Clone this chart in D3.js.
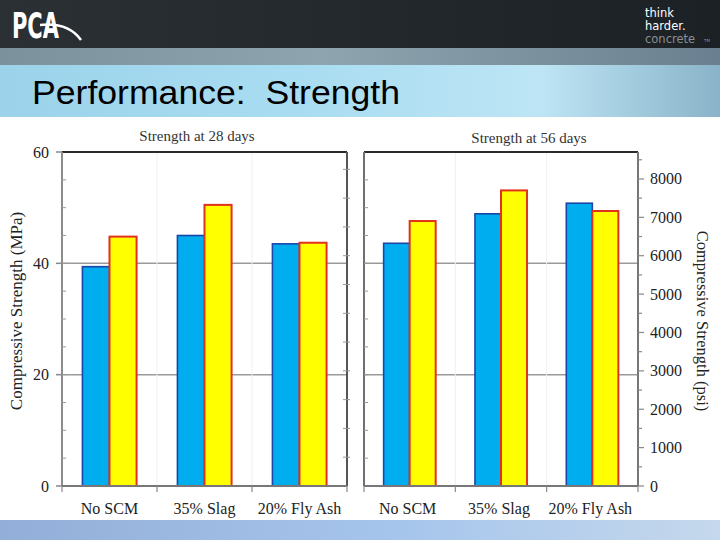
<!DOCTYPE html>
<html><head><meta charset="utf-8">
<script src="https://cdn.jsdelivr.net/npm/d3@7"></script>
<style>html,body{margin:0;padding:0;background:#fff;}svg{display:block;}</style>
</head><body>
<svg id="c" width="720" height="540"></svg>
<script>
// ---- data ----
const categories = ["No SCM", "35% Slag", "20% Fly Ash"];
const blue28 = [39.4, 45.0, 43.5];     // MPa, blue bars, 28 days
const yellow28 = [44.8, 50.5, 43.7];   // MPa, yellow bars, 28 days
const blue56 = [43.6, 48.9, 50.8];     // MPa, blue bars, 56 days
const yellow56 = [47.6, 53.1, 49.4];   // MPa, yellow bars, 56 days
const mpaTicks = [0, 20, 40, 60];
const psiTicks = [0, 1000, 2000, 3000, 4000, 5000, 6000, 7000, 8000];
const panelTitles = ["Strength at 28 days", "Strength at 56 days"];
const PSI_PER_MPA = 145.038;

const svg = d3.select("#c");
const defs = svg.append("defs");
function grad(id, stops, x2 = "100%", y2 = "0%") {
  const g = defs.append("linearGradient").attr("id", id).attr("x1", "0%").attr("y1", "0%").attr("x2", x2).attr("y2", y2);
  stops.forEach(s => g.append("stop").attr("offset", s[0]).attr("stop-color", s[1]));
}
grad("hdr", [["0%", "#2b3034"], ["100%", "#1c2125"]]);
grad("band", [["0%", "#7b929c"], ["45%", "#8ea4ae"], ["100%", "#6a8090"]]);
grad("title", [["0%", "#9cd3ea"], ["40%", "#a8dcf1"], ["75%", "#bde5f5"], ["100%", "#8ab3c9"]]);
grad("foot", [["0%", "#93aed8"], ["55%", "#a6c5ec"], ["100%", "#c5d8ec"]]);

// ---- slide chrome ----
svg.append("rect").attr("x", 0).attr("y", 0).attr("width", 720).attr("height", 48).attr("fill", "url(#hdr)");
svg.append("rect").attr("x", 0).attr("y", 48).attr("width", 720).attr("height", 17).attr("fill", "url(#band)");
svg.append("rect").attr("x", 0).attr("y", 65).attr("width", 720).attr("height", 52).attr("fill", "url(#title)");
svg.append("rect").attr("x", 0).attr("y", 520).attr("width", 720).attr("height", 20).attr("fill", "url(#foot)");

// PCA logo
svg.append("text").attr("x", 12).attr("y", 38).attr("fill", "#fff")
  .attr("font-family", "DejaVu Sans Condensed, DejaVu Sans").attr("font-weight", "bold").attr("font-size", 36)
  .attr("textLength", 47).attr("lengthAdjust", "spacingAndGlyphs").text("PCA");
svg.append("path").attr("d", "M40,25 Q68,22 81,40").attr("fill", "none").attr("stroke", "#fff").attr("stroke-width", 2.5);

// tagline
const tag = [["think", "#ffffff"], ["harder.", "#ffffff"], ["concrete", "#8b8f92"]];
tag.forEach((t, i) => {
  svg.append("text").attr("x", 645).attr("y", 17 + i * 13).attr("fill", t[1])
    .attr("font-family", "DejaVu Sans").attr("font-size", 11.5).text(t[0]);
});
svg.append("text").attr("x", 704).attr("y", 42).attr("fill", "#8b8f92").attr("font-family", "DejaVu Sans").attr("font-size", 4).text("TM");

// slide title
svg.append("text").attr("x", 32).attr("y", 104).attr("fill", "#000")
  .attr("font-family", "Liberation Sans, Arial").attr("font-size", 33).style("white-space", "pre")
  .attr("textLength", 368).attr("lengthAdjust", "spacingAndGlyphs")
  .attr("xml:space", "preserve").text("Performance:  Strength");

// ---- charts ----
const serif = "Liberation Serif, Times New Roman, serif";
const y = d3.scaleLinear().domain([0, 60]).range([486, 152]);
const yPsi = d3.scaleLinear().domain([0, 60 * PSI_PER_MPA]).range([486, 152]);

const panels = [
  { x0: 62, x1: 347, blue: blue28, yellow: yellow28, title: panelTitles[0], tx: 197, ty: 141 },
  { x0: 364, x1: 638, blue: blue56, yellow: yellow56, title: panelTitles[1], tx: 529, ty: 143 }
];

panels.forEach((p, pi) => {
  const g = svg.append("g");
  const x = d3.scaleBand().domain(categories).range([p.x0, p.x1]).padding(0);
  const groupW = x.bandwidth() * 0.57;
  const sub = d3.scaleBand().domain(["blue", "yellow"]).range([0, groupW]).padding(0);

  // gridlines at 20, 40
  g.selectAll(".grid").data([20, 40]).join("line")
    .attr("x1", p.x0).attr("x2", p.x1).attr("y1", d => y(d)).attr("y2", d => y(d))
    .attr("stroke", "#9a9a9a").attr("stroke-width", 1.5);
  // faint vertical category separators
  g.selectAll(".vsep").data(categories.slice(1)).join("line")
    .attr("x1", d => x(d)).attr("x2", d => x(d)).attr("y1", y(60)).attr("y2", y(0))
    .attr("stroke", "#f0f0f0").attr("stroke-width", 1);

  const rows = categories.map((c, i) => ({ c, blue: p.blue[i], yellow: p.yellow[i] }));
  ["blue", "yellow"].forEach(k => {
    g.selectAll(".bar-" + k).data(rows).join("rect")
      .attr("x", d => x(d.c) + (x.bandwidth() - groupW) / 2 + sub(k))
      .attr("y", d => y(d[k]))
      .attr("width", sub.bandwidth())
      .attr("height", d => y(0) - y(d[k]))
      .attr("fill", k === "blue" ? "#00aeef" : "#ffff00")
      .attr("stroke", k === "blue" ? "#1b45a8" : "#e2311c")
      .attr("stroke-width", k === "blue" ? 1.6 : 2);
  });

  // frame
  g.append("line").attr("x1", p.x0).attr("x2", p.x1).attr("y1", y(60)).attr("y2", y(60)).attr("stroke", "#2a2a2a").attr("stroke-width", 2);
  g.append("line").attr("x1", p.x0).attr("x2", p.x0).attr("y1", y(60)).attr("y2", y(0)).attr("stroke", pi === 0 ? "#8c8c8c" : "#707070").attr("stroke-width", 2);
  g.append("line").attr("x1", p.x1).attr("x2", p.x1).attr("y1", y(60)).attr("y2", y(0)).attr("stroke", pi === 0 ? "#555" : "#777").attr("stroke-width", 2);
  g.append("line").attr("x1", p.x0).attr("x2", p.x1).attr("y1", y(0)).attr("y2", y(0)).attr("stroke", "#777").attr("stroke-width", 2);

  // bottom ticks at category boundaries
  const bnds = [p.x0, ...categories.slice(1).map(c => x(c)), p.x1];
  g.selectAll(".bt").data(bnds).join("line")
    .attr("x1", d => d).attr("x2", d => d).attr("y1", y(0)).attr("y2", y(0) + 6)
    .attr("stroke", "#888").attr("stroke-width", 1.2);

  // inner left minor ticks every 5 MPa
  g.selectAll(".lt").data(d3.range(5, 60, 5)).join("line")
    .attr("x1", p.x0).attr("x2", p.x0 + 4).attr("y1", d => y(d)).attr("y2", d => y(d))
    .attr("stroke", "#999").attr("stroke-width", 1);

  // category labels
  g.selectAll(".cl").data(categories).join("text")
    .attr("x", d => x(d) + x.bandwidth() / 2 + (pi === 0 ? 0 : -2)).attr("y", 514)
    .attr("text-anchor", "middle").attr("font-family", serif).attr("font-size", 16).attr("fill", "#222")
    .text(d => d);

  // panel title
  g.append("text").attr("x", p.tx).attr("y", p.ty).attr("text-anchor", "middle")
    .attr("font-family", serif).attr("font-size", 15).attr("fill", "#333").text(p.title);

  if (pi === 0) {
    // left MPa axis
    g.selectAll(".mt").data(mpaTicks).join("line")
      .attr("x1", p.x0 - 6).attr("x2", p.x0).attr("y1", d => y(d)).attr("y2", d => y(d))
      .attr("stroke", "#888").attr("stroke-width", 1.5);
    g.selectAll(".ml").data(mpaTicks).join("text")
      .attr("x", 49).attr("y", d => y(d) + 5.5).attr("text-anchor", "end")
      .attr("font-family", serif).attr("font-size", 16).attr("fill", "#222").text(d => d);
    // right side inner ticks (every 750 psi)
    g.selectAll(".rt").data(d3.range(750, 8700, 750)).join("line")
      .attr("x1", p.x1 - 4).attr("x2", p.x1 + 3).attr("y1", d => yPsi(d)).attr("y2", d => yPsi(d))
      .attr("stroke", "#999").attr("stroke-width", 1);
  } else {
    // right psi axis
    g.selectAll(".pt").data(d3.range(0, 8701, 500)).join("line")
      .attr("x1", p.x1).attr("x2", d => p.x1 + (d % 1000 === 0 ? 6 : 4)).attr("y1", d => yPsi(d)).attr("y2", d => yPsi(d))
      .attr("stroke", "#888").attr("stroke-width", 1.2);
    g.selectAll(".pl").data(psiTicks).join("text")
      .attr("x", 650).attr("y", d => yPsi(d) + 5.5).attr("text-anchor", "start")
      .attr("font-family", serif).attr("font-size", 16).attr("fill", "#222").text(d => d);
  }
});

// axis titles
svg.append("text").attr("transform", "translate(22,311) rotate(-90)").attr("text-anchor", "middle")
  .attr("font-family", serif).attr("font-size", 17).attr("fill", "#222").text("Compressive Strength (MPa)");
svg.append("text").attr("transform", "translate(697,321) rotate(90)").attr("text-anchor", "middle")
  .attr("font-family", serif).attr("font-size", 16.5).attr("fill", "#222").text("Compressive Strength (psi)");
</script>
</body></html>
